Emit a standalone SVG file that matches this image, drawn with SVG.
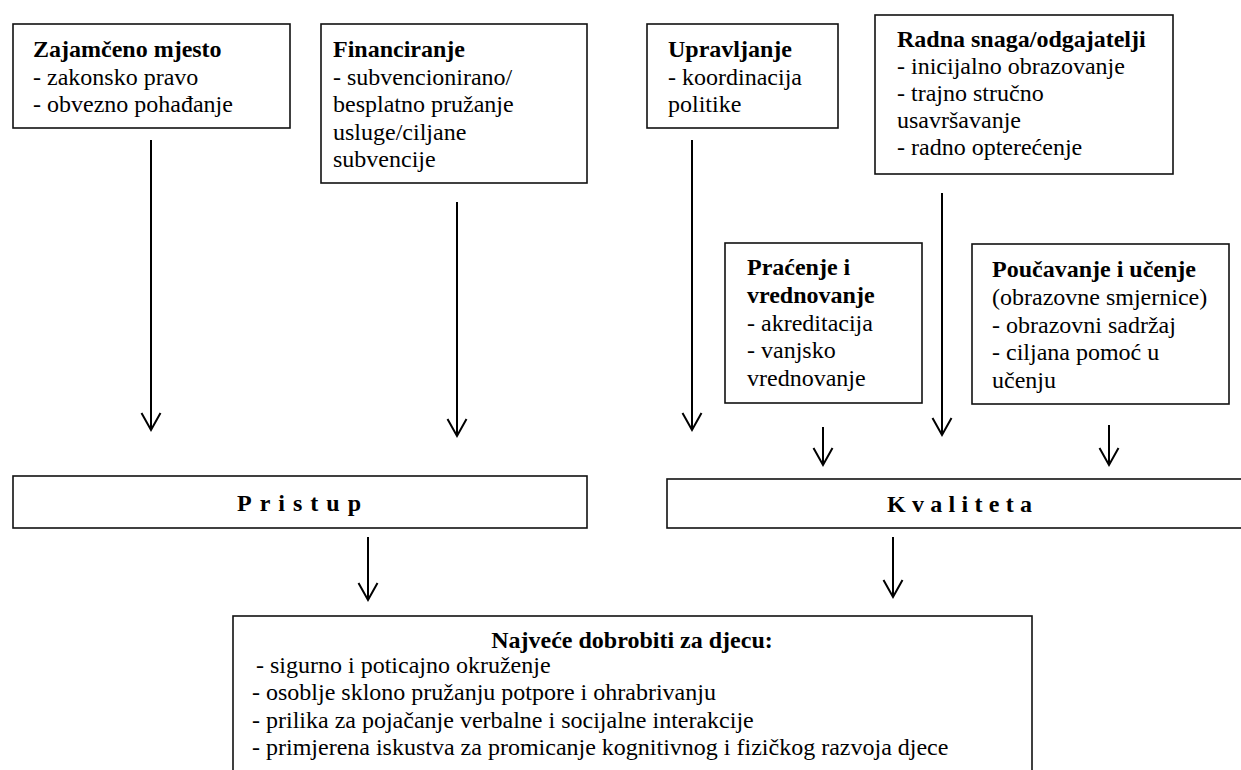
<svg xmlns="http://www.w3.org/2000/svg" width="1241" height="770" viewBox="0 0 1241 770">
<style>
  .box { fill: #fff; stroke: #111; stroke-width: 1.6; }
  text { font-family: "Liberation Serif", "Times New Roman", serif; font-size: 24px; fill: #000; }
  .b { font-weight: bold; }
  .sp { font-weight: bold; }
  .conn line { stroke: #000; stroke-width: 2; marker-end: url(#arr); }
</style>
<defs>
  <marker id="arr" viewBox="0 0 20 22" refX="18" refY="11" markerWidth="20" markerHeight="22" markerUnits="userSpaceOnUse" orient="auto" overflow="visible">
    <path d="M1,1.5 L18,11 L1,20.5" fill="none" stroke="#000" stroke-width="2"/>
  </marker>
</defs>
<rect width="1241" height="770" fill="#fff"/>

<g id="zajamceno">
  <rect class="box" x="13" y="24" width="277" height="104"/>
  <text x="33" y="57" class="b">Zajamčeno mjesto</text>
  <text x="33" y="85">- zakonsko pravo</text>
  <text x="33" y="112">- obvezno pohađanje</text>
</g>

<g id="financiranje">
  <rect class="box" x="321" y="24" width="266" height="159"/>
  <text x="333" y="57" class="b">Financiranje</text>
  <text x="333" y="85">- subvencionirano/</text>
  <text x="333" y="112">besplatno pružanje</text>
  <text x="333" y="140">usluge/ciljane</text>
  <text x="333" y="167">subvencije</text>
</g>

<g id="upravljanje">
  <rect class="box" x="647" y="24" width="191" height="104"/>
  <text x="668" y="57" class="b">Upravljanje</text>
  <text x="668" y="85">- koordinacija</text>
  <text x="668" y="112">politike</text>
</g>

<g id="radna-snaga">
  <rect class="box" x="875" y="15" width="298" height="159"/>
  <text x="897" y="47" class="b">Radna snaga/odgajatelji</text>
  <text x="897" y="74">- inicijalno obrazovanje</text>
  <text x="897" y="101">- trajno stručno</text>
  <text x="897" y="128">usavršavanje</text>
  <text x="897" y="155">- radno opterećenje</text>
</g>

<g id="pracenje">
  <rect class="box" x="725" y="243" width="197" height="160"/>
  <text x="747" y="275" class="b">Praćenje i</text>
  <text x="747" y="303" class="b">vrednovanje</text>
  <text x="747" y="331">- akreditacija</text>
  <text x="747" y="358">- vanjsko</text>
  <text x="747" y="386">vrednovanje</text>
</g>

<g id="poucavanje">
  <rect class="box" x="972" y="244" width="257" height="160"/>
  <text x="992" y="277" class="b">Poučavanje i učenje</text>
  <text x="992" y="305">(obrazovne smjernice)</text>
  <text x="992" y="333">- obrazovni sadržaj</text>
  <text x="992" y="360">- ciljana pomoć u</text>
  <text x="992" y="388">učenju</text>
</g>

<g id="pristup">
  <rect class="box" x="13" y="476" width="574" height="52"/>
  <text x="237" y="511" class="sp" letter-spacing="8">Pristup</text>
</g>

<g id="kvaliteta">
  <rect class="box" x="667" y="479" width="590" height="49"/>
  <text x="887" y="512" class="sp" letter-spacing="6.3">Kvaliteta</text>
</g>

<g id="dobrobiti">
  <rect class="box" x="233" y="616" width="799" height="170"/>
  <text x="632" y="648" class="b" text-anchor="middle">Najveće dobrobiti za djecu:</text>
  <text x="256" y="673">- sigurno i poticajno okruženje</text>
  <text x="252" y="700">- osoblje sklono pružanju potpore i ohrabrivanju</text>
  <text x="252" y="728">- prilika za pojačanje verbalne i socijalne interakcije</text>
  <text x="252" y="755">- primjerena iskustva za promicanje kognitivnog i fizičkog razvoja djece</text>
</g>

<g id="connectors" class="conn">
  <line x1="151" y1="140" x2="151" y2="430"/>
  <line x1="457" y1="202" x2="457" y2="436"/>
  <line x1="692" y1="140" x2="692" y2="430"/>
  <line x1="942" y1="193" x2="942" y2="435"/>
  <line x1="823" y1="427" x2="823" y2="465"/>
  <line x1="1109" y1="425" x2="1109" y2="465"/>
  <line x1="368" y1="537" x2="368" y2="600"/>
  <line x1="893" y1="537" x2="893" y2="597"/>
</g>
</svg>
